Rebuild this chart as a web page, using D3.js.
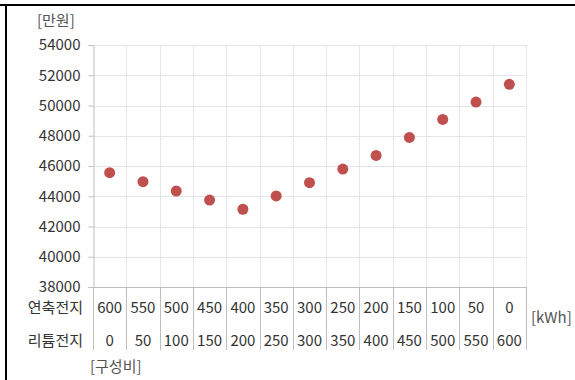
<!DOCTYPE html>
<html>
<head>
<meta charset="utf-8">
<script src="https://cdn.jsdelivr.net/npm/d3@7"></script>
<style>
  html, body { margin: 0; padding: 0; background: #fff; }
</style>
</head>
<body>
<script>
const width = 575;
const height = 380;
const fontFamily = `"Noto Sans CJK KR", "Noto Sans", sans-serif`;
const fontSize = 15;

// 구성비 (kWh)
const leadAcid = [600, 550, 500, 450, 400, 350, 300, 250, 200, 150, 100, 50, 0];
const lithium = [0, 50, 100, 150, 200, 250, 300, 350, 400, 450, 500, 550, 600];
// 비용 (만원)
const cost = [45560, 44960, 44340, 43750, 43140, 44020, 44900, 45800, 46700, 47890, 49080, 50230, 51400];
const yTicks = [38000, 40000, 42000, 44000, 46000, 48000, 50000, 52000, 54000];
const rowLabels = ["연축전지", "리튬전지"];

const plot = { left: 93, right: 526, top: 45, bottom: 287 };
const tableBottom = 350;

const svg = d3
  .select("body")
  .append("svg")
  .attr("width", width)
  .attr("height", height)
  .attr("font-family", fontFamily);

svg.append("rect").attr("width", width).attr("height", height).attr("fill", "#fff");

// frame (top + left edge only, as in the source image)
svg.append("rect").attr("x", 0).attr("y", 4).attr("width", width).attr("height", 2).attr("fill", "#000");
svg.append("rect").attr("x", 5).attr("y", 4).attr("width", 2).attr("height", height).attr("fill", "#000");

const x = d3
  .scaleBand()
  .domain(d3.range(cost.length))
  .range([plot.left, plot.right]);

const y = d3.scaleLinear().domain([38000, 54000]).range([plot.bottom, plot.top]);

const grid = svg.append("g").attr("id", "grid").attr("stroke", "#e4e6ee").attr("stroke-width", 1);

grid
  .selectAll(".hgrid")
  .data(yTicks.filter((d) => d !== 38000))
  .enter()
  .append("line")
  .attr("x1", plot.left)
  .attr("x2", plot.right)
  .attr("y1", (d) => Math.round(y(d)) + 0.5)
  .attr("y2", (d) => Math.round(y(d)) + 0.5);

const bounds = d3.range(cost.length + 1).map((i) => plot.left + i * x.bandwidth());

grid
  .selectAll(".vgrid")
  .data(bounds.slice(1))
  .enter()
  .append("line")
  .attr("x1", (d) => Math.round(d) + 0.5)
  .attr("x2", (d) => Math.round(d) + 0.5)
  .attr("y1", plot.top)
  .attr("y2", plot.bottom);

// y axis
const yAxis = svg
  .append("g")
  .attr("transform", `translate(${plot.left + 0.5},0)`)
  .call(d3.axisLeft(y).tickValues(yTicks).tickSize(5).tickPadding(8).tickFormat(d3.format("d")));

yAxis.select(".domain").attr("stroke", "#bfbfbf");
yAxis.selectAll(".tick line").attr("stroke", "#bfbfbf");
yAxis
  .selectAll(".tick text")
  .attr("fill", "#333")
  .attr("font-size", fontSize)
  .attr("font-family", fontFamily);

// table under the axis
const table = svg.append("g").attr("id", "table").attr("stroke", "#bfbfbf");

table
  .append("line")
  .attr("x1", plot.left - 5)
  .attr("x2", plot.right)
  .attr("y1", plot.bottom + 0.5)
  .attr("y2", plot.bottom + 0.5);

table
  .selectAll(".sep")
  .data(bounds)
  .enter()
  .append("line")
  .attr("x1", (d) => Math.round(d) + 0.5)
  .attr("x2", (d) => Math.round(d) + 0.5)
  .attr("y1", plot.bottom)
  .attr("y2", tableBottom);

const rows = [leadAcid, lithium];
const rowY = [308, 341];

rows.forEach((row, r) => {
  svg
    .append("g")
    .attr("font-size", fontSize)
    .attr("fill", "#333")
    .attr("text-anchor", "middle")
    .selectAll("text")
    .data(row)
    .enter()
    .append("text")
    .attr("x", (d, i) => x(i) + x.bandwidth() / 2)
    .attr("y", rowY[r])
    .attr("dy", "0.35em")
    .text((d) => d);
});

svg
  .append("g")
  .attr("font-size", fontSize)
  .attr("fill", "#333")
  .attr("text-anchor", "end")
  .selectAll("text")
  .data(rowLabels)
  .enter()
  .append("text")
  .attr("x", 83)
  .attr("y", (d, i) => rowY[i])
  .attr("dy", "0.35em")
  .text((d) => d);

// unit labels
const units = svg.append("g").attr("font-size", fontSize).attr("fill", "#555");
units.append("text").attr("x", 37).attr("y", 21).attr("dy", "0.35em").text("[만원]");
units.append("text").attr("x", 531).attr("y", 318).attr("dy", "0.35em").text("[kWh]");
units.append("text").attr("x", 90).attr("y", 367).attr("dy", "0.35em").text("[구성비]");

// points
svg
  .append("g")
  .attr("id", "points")
  .selectAll("circle")
  .data(cost)
  .enter()
  .append("circle")
  .attr("cx", (d, i) => x(i) + x.bandwidth() / 2)
  .attr("cy", (d) => y(d))
  .attr("r", 5.5)
  .attr("fill", "#c0504d");
</script>
</body>
</html>
